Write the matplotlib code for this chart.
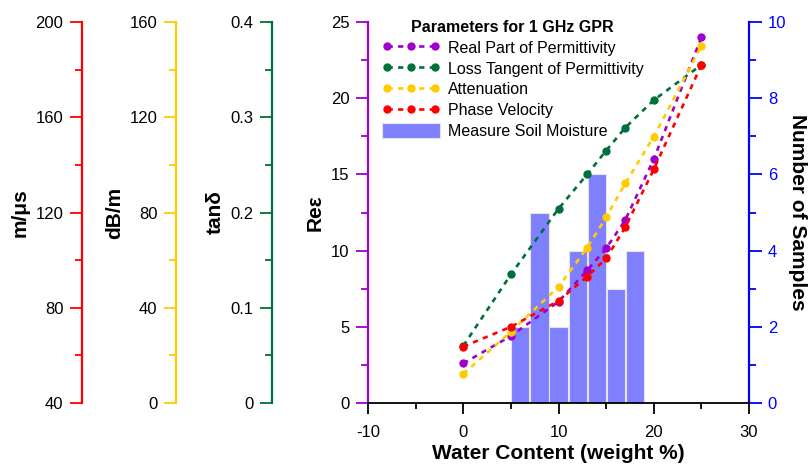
import numpy as np
import matplotlib.pyplot as plt
from matplotlib.ticker import MultipleLocator, FuncFormatter

plt.rcParams['font.family'] = ['Liberation Sans', 'DejaVu Sans']
plt.rcParams['axes.unicode_minus'] = False

### Data
water = [0, 5, 10, 13, 15, 17, 20, 25]
real_perm = [2.6, 4.4, 6.65, 8.7, 10.15, 12.0, 16.0, 24.0]           # Re eps
loss_tan = [0.060, 0.135, 0.204, 0.240, 0.265, 0.289, 0.318, 0.355]  # tan delta
attenuation = [12.2, 30.0, 48.8, 65.2, 78.0, 92.2, 111.8, 150.0]     # dB/m
phase_vel = [63.7, 72.0, 82.9, 93.1, 100.7, 113.8, 138.1, 182.0]     # m/us

bin_centers = [6, 8, 10, 12, 14, 16, 18]
sample_counts = [2, 5, 2, 4, 6, 3, 4]

### Colours
purple = '#A000CC'
green = '#00703A'
yellow = '#FFCC00'
red = '#FF0000'
blue = '#0000FF'
bar_color = '#8080FF'

fmt = FuncFormatter(lambda v, p: f'{v:g}')
line_kw = dict(ls=(0, (2, 2)), lw=1.9, marker='o', ms=5)

fig = plt.figure(figsize=(8.11, 4.69), dpi=100)
ax = fig.add_axes([0.4538, 0.1407, 0.4698, 0.8124])
ax_n = ax.twinx()
ax_g = ax.twinx()
ax_y = ax.twinx()
ax_r = ax.twinx()

# bars at the bottom, lines above
ax_n.set_zorder(1)
ax.set_zorder(2)
ax.patch.set_visible(False)
ax_g.set_zorder(3)
ax_y.set_zorder(4)
ax_r.set_zorder(5)


def y_ticks(a, color, labelcolor):
    a.tick_params(axis='y', which='both', colors=color, labelcolor=labelcolor,
                  direction='out', labelsize=12, width=1.3, pad=4.5)
    a.tick_params(axis='y', which='major', length=9)
    a.tick_params(axis='y', which='minor', length=5)


### Main axis (Re eps)
for s in ['top', 'right']:
    ax.spines[s].set_visible(False)
ax.spines['left'].set_color(purple)
ax.spines['left'].set_linewidth(1.6)
ax.spines['bottom'].set_linewidth(1.3)
ax.set_xlim(-10, 30)
ax.set_ylim(0, 25)
ax.xaxis.set_major_locator(MultipleLocator(10))
ax.xaxis.set_minor_locator(MultipleLocator(5))
ax.yaxis.set_major_locator(MultipleLocator(5))
ax.yaxis.set_minor_locator(MultipleLocator(2.5))
y_ticks(ax, purple, 'black')
ax.tick_params(axis='x', which='both', direction='out', labelsize=12, width=1.3, pad=7.5)
ax.tick_params(axis='x', which='major', length=8)
ax.tick_params(axis='x', which='minor', length=4.5)
ax.set_xlabel('Water Content (weight %)', fontsize=15, fontweight='bold', labelpad=3.5)
ax.set_ylabel('Reε', fontsize=15, fontweight='bold')
l_p, = ax.plot(water, real_perm, color=purple, label='Real Part of Permittivity', **line_kw)

### Right axis (samples)
for s in ['top', 'left', 'bottom']:
    ax_n.spines[s].set_visible(False)
ax_n.spines['right'].set_color(blue)
ax_n.spines['right'].set_linewidth(1.6)
ax_n.set_ylim(0, 10)
ax_n.yaxis.set_major_locator(MultipleLocator(2))
ax_n.yaxis.set_minor_locator(MultipleLocator(1))
y_ticks(ax_n, blue, blue)
ax_n.set_ylabel('Number of Samples', fontsize=15, fontweight='bold',
                rotation=270, labelpad=15)
bars = ax_n.bar(bin_centers, sample_counts, width=1.9, color=bar_color,
                edgecolor='#e4e4e4', linewidth=0.8, label='Measure Soil Moisture')


def scale_axis(a, color, offset, lo, hi, major, label):
    for s in a.spines.values():
        s.set_visible(False)
    sp = a.spines['left']
    sp.set_visible(True)
    sp.set_position(('axes', offset))
    sp.set_color(color)
    sp.set_linewidth(1.6)
    a.yaxis.set_ticks_position('left')
    a.yaxis.set_label_position('left')
    a.set_ylim(lo, hi)
    a.yaxis.set_major_locator(MultipleLocator(major))
    a.yaxis.set_minor_locator(MultipleLocator(major / 2))
    a.yaxis.set_major_formatter(fmt)
    y_ticks(a, color, 'black')
    a.set_ylabel(label, fontsize=15, fontweight='bold')


scale_axis(ax_r, red, -0.7507, 40, 200, 40, 'm/μs')
scale_axis(ax_y, yellow, -0.504, 0, 160, 40, 'dB/m')
scale_axis(ax_g, green, -0.252, 0, 0.4, 0.1, 'tanδ')

l_g, = ax_g.plot(water, loss_tan, color=green, label='Loss Tangent of Permittivity', **line_kw)
l_y, = ax_y.plot(water, attenuation, color=yellow, label='Attenuation', **line_kw)
l_r, = ax_r.plot(water, phase_vel, color=red, label='Phase Velocity', **line_kw)

handles = [l_p, l_g, l_y, l_r, bars]
leg = ax_r.legend(handles, [h.get_label() for h in handles],
                  title='Parameters for 1 GHz GPR', loc='upper left',
                  bbox_to_anchor=(0.02, 1.022), borderaxespad=0, frameon=False,
                  fontsize=11.5, title_fontproperties={'size': 11.5, 'weight': 'bold'},
                  numpoints=3, handlelength=3.6, handletextpad=0.5,
                  handleheight=1.05, labelspacing=0.31)

fig.savefig('out.png', dpi=100)
